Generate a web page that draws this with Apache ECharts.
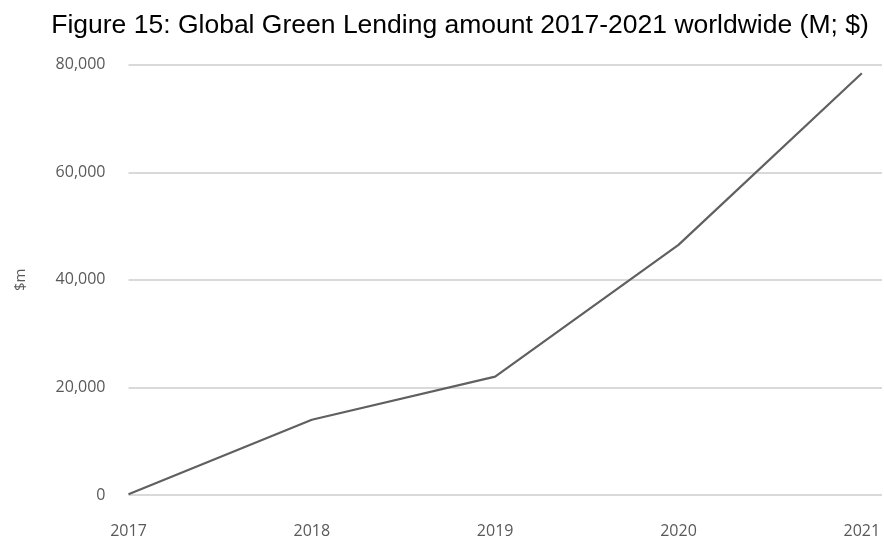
<!DOCTYPE html>
<html><head><meta charset="utf-8">
<script src="https://cdn.jsdelivr.net/npm/echarts@6/dist/echarts.min.js"></script>
<style>html,body{margin:0;padding:0;background:#fff}#c{width:884px;height:540px}</style>
</head><body><div id="c"></div>
<script>
const years = [2017, 2018, 2019, 2020, 2021];
const lending = [150, 14000, 22000, 46500, 78400];
const yTicks = [0, 20000, 40000, 60000, 80000];

const chart = echarts.init(document.getElementById('c'));
chart.setOption({
  animation: false,
  title: {
    text: 'Figure 15: Global Green Lending amount 2017-2021 worldwide (M; $)',
    left: 455, top: 7, textAlign: 'center',
    textStyle: {fontFamily: 'Liberation Sans', fontSize: 26.5, fontWeight: 'normal', color: '#000'}
  },
  grid: {left: 128.5, right: 2, top: 64.7, bottom: 45, containLabel: false},
  xAxis: {
    type: 'value', min: 2017, max: 2021.11, interval: 1,
    axisLine: {show: false}, axisTick: {show: false}, splitLine: {show: false},
    axisLabel: {
      showMaxLabel: false, margin: 28,
      color: '#595959', fontFamily: 'Open Sans', fontSize: 16,
      formatter: v => (Number.isInteger(v) && years.includes(v)) ? String(v) : ''
    }
  },
  yAxis: {
    type: 'value', min: yTicks[0], max: yTicks[yTicks.length - 1], interval: 20000,
    name: '$m', nameLocation: 'middle', nameGap: 100, nameRotate: 90,
    nameTextStyle: {color: '#595959', fontFamily: 'Open Sans', fontSize: 15},
    axisLine: {show: false}, axisTick: {show: false},
    axisLabel: {
      margin: 23, color: '#595959', fontFamily: 'Open Sans', fontSize: 16,
      padding: [4, 0, 0, 0],
      formatter: v => v.toLocaleString('en-US')
    },
    splitLine: {lineStyle: {color: '#d9d9d9', width: 2}}
  },
  series: [{
    type: 'line',
    data: years.map((y, i) => [y, lending[i]]),
    symbol: 'none',
    lineStyle: {color: '#606060', width: 2.2}
  }]
});
</script></body></html>
